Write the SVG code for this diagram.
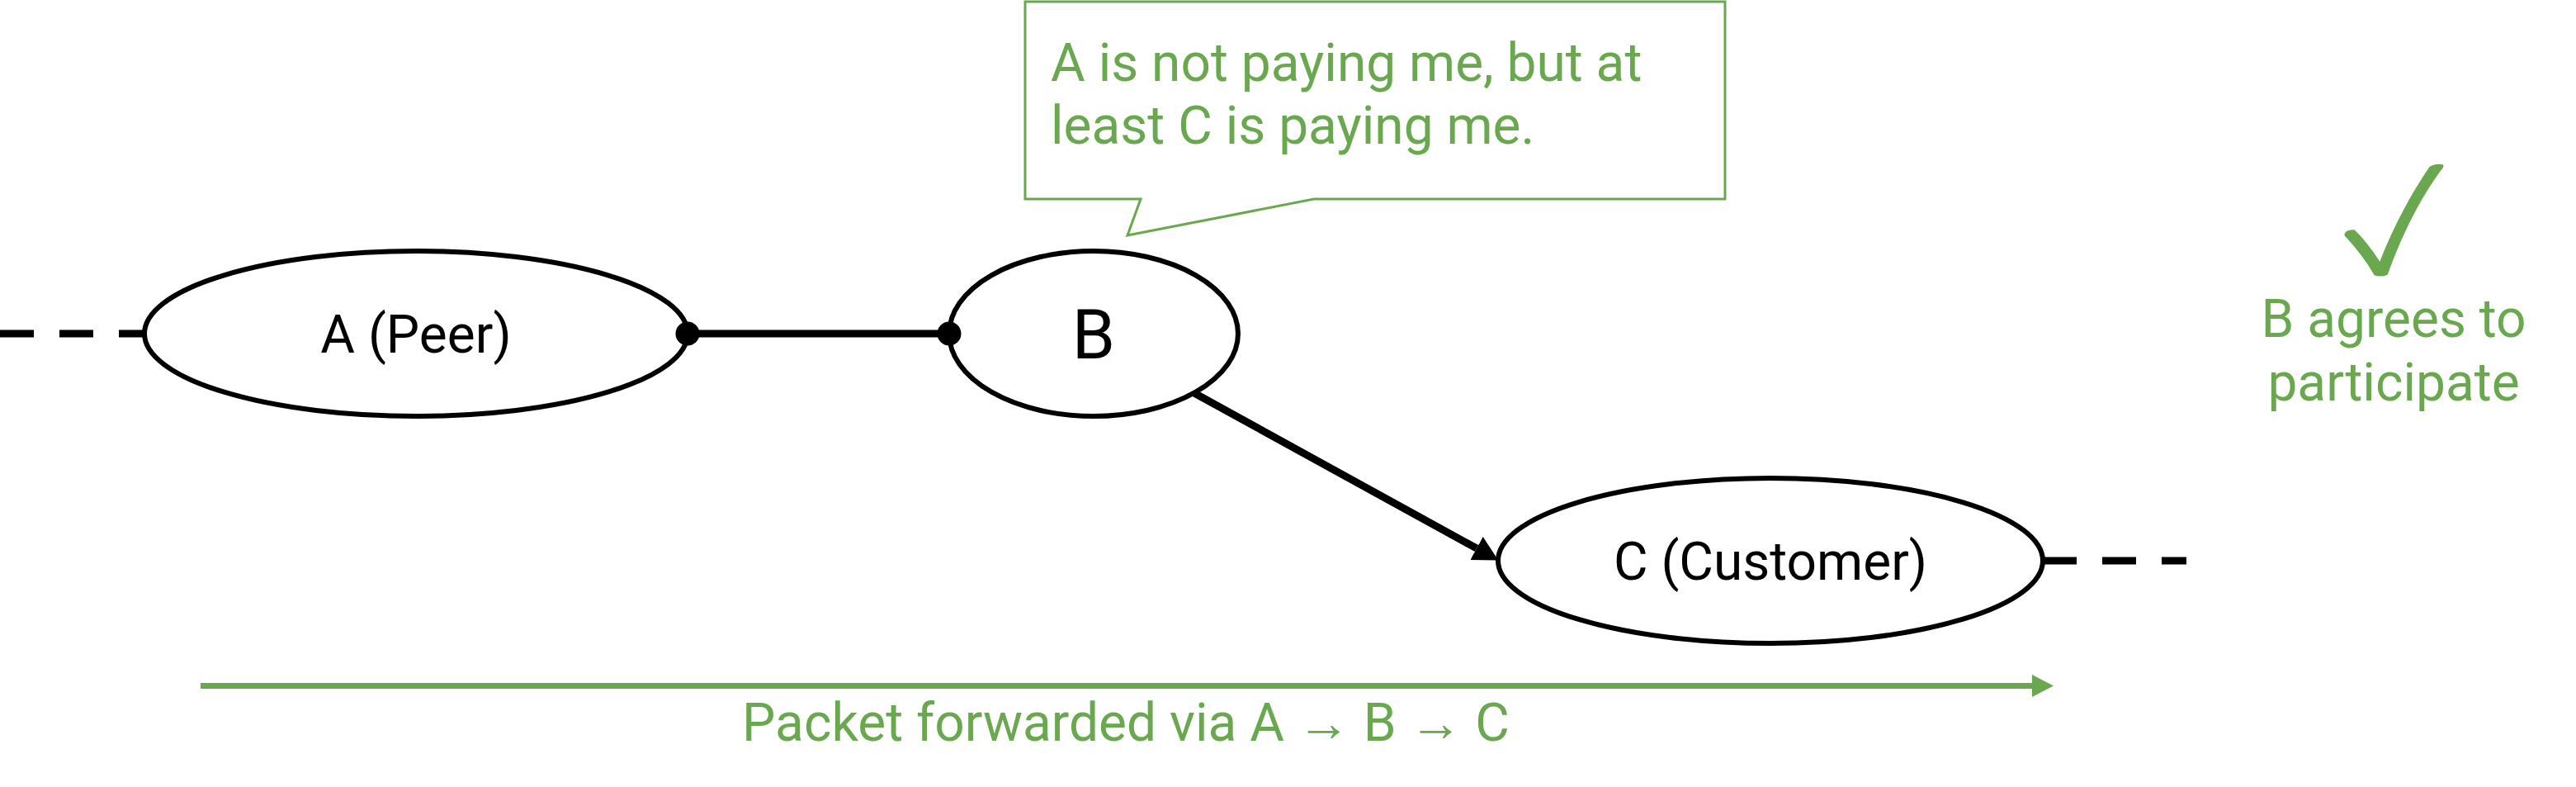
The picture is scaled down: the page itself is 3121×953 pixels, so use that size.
<svg xmlns="http://www.w3.org/2000/svg" width="3121" height="953" viewBox="0 0 3121 953">
  <style>
    .node { fill: #ffffff; stroke: #000000; stroke-width: 6; }
    .lbl { font-family: Roboto, "Liberation Sans", sans-serif; fill: #000000; text-anchor: middle; }
    .green { font-family: Roboto, "Liberation Sans", sans-serif; fill: #6aa84f; font-size: 64px; }
    .edge { stroke: #000000; stroke-width: 9; fill: none; }
    .dash { stroke-dasharray: 41 31; }
  </style>
  <defs>
    <marker id="arrow" viewBox="0 0 30 32" refX="0" refY="16" markerWidth="30" markerHeight="32" markerUnits="userSpaceOnUse" orient="auto">
      <path d="M0,0 L30,16 L0,32 Z" fill="#000000"/>
    </marker>
  </defs>
  <rect x="0" y="0" width="3121" height="953" fill="#ffffff"/>

  <g id="connectors">
    <line class="edge dash" x1="0" y1="404" x2="330" y2="404"/>
    <line class="edge dash" x1="2475" y1="679" x2="2649" y2="679"/>
    <line class="edge" x1="833" y1="404" x2="1150" y2="404"/>
    <line class="edge" x1="1447" y1="476" x2="1789" y2="664" marker-end="url(#arrow)"/>
  </g>

  <g id="node-a">
    <ellipse class="node" cx="504" cy="404" rx="329" ry="100"/>
    <text class="lbl" x="504" y="427" font-size="64">A (Peer)</text>
  </g>
  <g id="node-b">
    <ellipse class="node" cx="1325" cy="404" rx="175" ry="100"/>
    <text class="lbl" x="1325" y="434" font-size="84">B</text>
  </g>
  <g id="node-c">
    <ellipse class="node" cx="2145" cy="679" rx="330" ry="100"/>
    <text class="lbl" x="2145" y="702" font-size="64">C (Customer)</text>
  </g>

  <g id="endpoint-dots">
    <circle cx="833" cy="404" r="14.5" fill="#000000"/>
    <circle cx="1150" cy="404" r="14.5" fill="#000000"/>
  </g>

  <g id="callout">
    <path d="M1242,2 H2090 V241 H1592 L1366,285 L1382,241 H1242 Z" fill="#ffffff" stroke="#6aa84f" stroke-width="3"/>
    <text class="green" x="1273" y="98">A is not paying me, but at</text>
    <text class="green" x="1273" y="174">least C is paying me.</text>
  </g>

  <g id="agree">
    <path transform="translate(2600,170) scale(0.3333)" fill="#6aa84f" d="M722,340 Q725,325 758,325 Q800,365 850,440 Q920,260 1030,97 Q1050,82 1080,88 Q1085,95 1075,105 Q960,260 878,488 Q855,498 830,490 Q790,420 730,355 Q718,345 722,340 Z"/>
    <text class="green" x="2900" y="408" text-anchor="middle">B agrees to</text>
    <text class="green" x="2900" y="485" text-anchor="middle">participate</text>
  </g>

  <g id="packet-flow">
    <line x1="243" y1="830.5" x2="2463" y2="830.5" stroke="#6aa84f" stroke-width="7"/>
    <path d="M2462,817 L2488,830.5 L2462,844 Z" fill="#6aa84f"/>
    <text class="green" x="1364" y="897" text-anchor="middle">Packet forwarded via A → B → C</text>
  </g>
</svg>
